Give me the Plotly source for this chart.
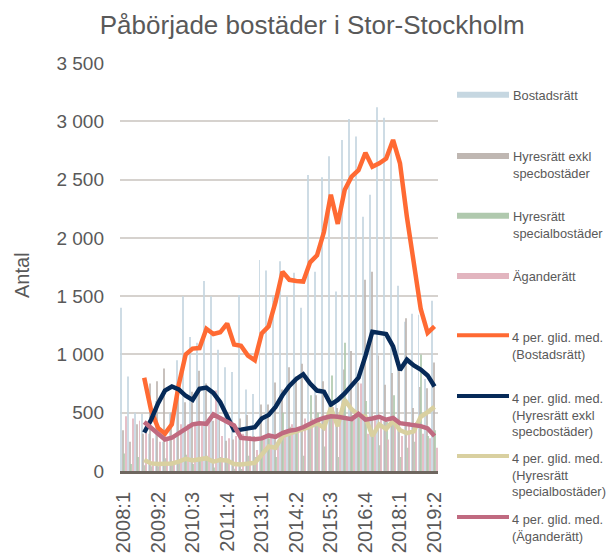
import plotly.graph_objects as go

quarters = ["2008:1","2008:2","2008:3","2008:4","2009:1","2009:2","2009:3","2009:4",
            "2010:1","2010:2","2010:3","2010:4","2011:1","2011:2","2011:3","2011:4",
            "2012:1","2012:2","2012:3","2012:4","2013:1","2013:2","2013:3","2013:4",
            "2014:1","2014:2","2014:3","2014:4","2015:1","2015:2","2015:3","2015:4",
            "2016:1","2016:2","2016:3","2016:4","2017:1","2017:2","2017:3","2017:4",
            "2018:1","2018:2","2018:3","2018:4","2019:1","2019:2"]
tick_labels = ["2008:1","2009:2","2010:3","2011:4","2013:1","2014:2","2015:3","2016:4","2018:1","2019:2"]

bostadsratt = [1400, 810, 500, 490, 320, 600, 250, 500, 950, 1500, 1150, 1100, 1630, 1500, 1040, 890,
               850, 1510, 700, 660, 1810, 1720, 1500, 1800, 1500, 1700, 1400, 2540, 1710, 2520, 2700, 1540,
               2840, 3020, 2870, 2180, 2370, 3120, 3030, 2820, 1590, 1280, 1350, 1340, 790, 1460]
hyres_exkl = [350, 250, 400, 320, 750, 770, 880, 500, 670, 590, 680, 860, 750, 430, 440, 260,
              270, 450, 480, 300, 570, 570, 760, 700, 890, 810, 920, 380, 650, 770, 480, 540,
              870, 1030, 760, 1640, 1710, 990, 740, 840, 910, 1310, 540, 720, 710, 930]
hyres_special = [150, 60, 120, 50, 40, 40, 110, 70, 90, 140, 60, 110, 130, 30, 120, 90,
                 20, 10, 130, 120, 290, 280, 120, 500, 380, 350, 130, 650, 500, 210, 820, 120,
                 1100, 480, 480, 600, 300, 220, 420, 650, 120, 200, 250, 1000, 300, 350]
aganderatt = [470, 450, 430, 330, 280, 250, 270, 290, 400, 400, 420, 390, 420, 690, 300, 280,
              300, 320, 300, 180, 300, 300, 260, 300, 400, 340, 450, 450, 440, 400, 550, 460,
              450, 440, 750, 320, 480, 440, 270, 460, 300, 420, 420, 320, 280, 200]

ma_bostadsratt = [None, None, None, 800, 520, 370, 320, 400, 740, 1000, 1050, 1055, 1220, 1175, 1190, 1265,
                  1085, 1075, 990, 950, 1180, 1240, 1450, 1710, 1640, 1630, 1625, 1790, 1850, 2050, 2370, 2120,
                  2410, 2525, 2580, 2730, 2610, 2640, 2680, 2840, 2640, 2180, 1760, 1390, 1185, 1240]
ma_hyres_exkl = [None, None, None, 330, 440, 580, 690, 725, 700, 645, 610, 705, 715, 670, 590, 470,
                 350, 355, 365, 375, 450, 480, 550, 650, 730, 790, 830, 750, 690, 680, 570, 610,
                 665, 730, 800, 985, 1195, 1185, 1175, 1070, 866, 955, 905, 870, 820, 725]
ma_hyres_special = [None, None, None, 95, 65, 60, 60, 65, 80, 105, 90, 100, 110, 80, 95, 90,
                    60, 55, 60, 70, 140, 210, 200, 300, 320, 340, 350, 380, 410, 370, 540, 385,
                    610, 530, 480, 465, 300, 400, 360, 430, 350, 325, 340, 465, 505, 550]
ma_aganderatt = [None, None, None, 420, 370, 320, 270, 285, 320, 360, 400, 410, 405, 485, 450, 423,
                 390, 285, 280, 272, 280, 305, 292, 325, 345, 355, 375, 410, 435, 455, 470, 465,
                 455, 445, 490, 440, 450, 465, 440, 455, 410, 400, 395, 385, 365, 300]

bar_series = [
    ("Bostadsrätt", bostadsratt, "#c6d7e1"),
    ("Hyresrätt exkl<br>specbostäder", hyres_exkl, "#bfb7b2"),
    ("Hyresrätt<br>specialbostäder", hyres_special, "#b0c9ae"),
    ("Äganderätt", aganderatt, "#e2b5bf"),
]
line_series = [
    ("4 per. glid. med.<br>(Bostadsrätt)", ma_bostadsratt, "#ff6a33"),
    ("4 per. glid. med.<br>(Hyresrätt exkl<br>specbostäder)", ma_hyres_exkl, "#062a58"),
    ("4 per. glid. med.<br>(Hyresrätt<br>specialbostäder)", ma_hyres_special, "#d9d0a0"),
    ("4 per. glid. med.<br>(Äganderätt)", ma_aganderatt, "#c06a80"),
]

W, H = 611, 559
L, R, T, B = 120, 438, 63, 471

def px(x):
    return (x - L) / (R - L)

def py(y):
    return (B - y) / (B - T)

fig = go.Figure()
for name, vals, col in bar_series:
    fig.add_trace(go.Bar(x=quarters, y=vals, name=name, marker=dict(color=col, line=dict(width=0)),
                         opacity=0.85, showlegend=False))
for name, vals, col in line_series:
    fig.add_trace(go.Scatter(x=quarters, y=vals, name=name, mode="lines",
                             line=dict(color=col, width=4.5), showlegend=False))

shapes = []
annotations = []
txt_color = "#595959"
FONT = "Liberation Sans, Arial"
LEG_SIZE = 12.8
bar_rows = [94.7, 156, 215.7, 276]
for (name, _, col), yc in zip(bar_series, bar_rows):
    shapes.append(dict(type="rect", xref="paper", yref="paper", x0=px(457), x1=px(509),
                       y0=py(yc + 3), y1=py(yc - 3), fillcolor=col, line=dict(width=0), layer="above"))
    annotations.append(dict(text=name, xref="paper", yref="paper", x=px(511), y=py(yc - 9),
                            xanchor="left", yanchor="top", align="left", showarrow=False,
                            font=dict(size=LEG_SIZE, color=txt_color, family=FONT)))
line_rows = [335.3, 396, 456, 517]
for (name, _, col), yc in zip(line_series, line_rows):
    shapes.append(dict(type="line", xref="paper", yref="paper", x0=px(457), x1=px(509),
                       y0=py(yc), y1=py(yc), line=dict(color=col, width=4), layer="above"))
    annotations.append(dict(text=name, xref="paper", yref="paper", x=px(510), y=py(yc - 7.5),
                            xanchor="left", yanchor="top", align="left", showarrow=False,
                            font=dict(size=LEG_SIZE, color=txt_color, family=FONT)))

annotations.append(dict(text="Antal", xref="paper", yref="paper", x=px(22), y=py(275),
                        xanchor="center", yanchor="middle", textangle=-90, showarrow=False,
                        font=dict(size=20, color=txt_color, family=FONT)))

fig.update_layout(
    width=W, height=H,
    margin=dict(l=L, r=W - R, t=T, b=H - B, pad=0, autoexpand=False),
    paper_bgcolor="white", plot_bgcolor="white",
    barmode="group", bargap=0.15, bargroupgap=0.35,
    separators=", ",
    font=dict(family=FONT, color=txt_color),
    title=dict(text="Påbörjade bostäder i Stor-Stockholm", x=0.511, xref="container",
               y=1 - 25 / H, yref="container", xanchor="center", yanchor="middle",
               font=dict(size=26, color=txt_color)),
    shapes=shapes, annotations=annotations,
    showlegend=False,
)
fig.update_yaxes(range=[0, 3500], dtick=500, tickformat=",d", showgrid=True, automargin=False,
                 gridcolor="#d6d2ce", gridwidth=2, zeroline=False, showline=False,
                 tickfont=dict(size=19, color=txt_color), ticklabelstandoff=15)
fig.update_xaxes(type="category", tickmode="array", tickvals=tick_labels, ticktext=tick_labels,
                 tickangle=-90, showgrid=False, showline=True, linecolor="#6e665f", linewidth=3,
                 automargin=False,
                 tickfont=dict(size=20, color=txt_color), ticklabelstandoff=10)

fig.write_html("out.html", config={"displayModeBar": False},
               post_script="document.body.style.margin='0px';document.body.style.overflow='hidden';")
